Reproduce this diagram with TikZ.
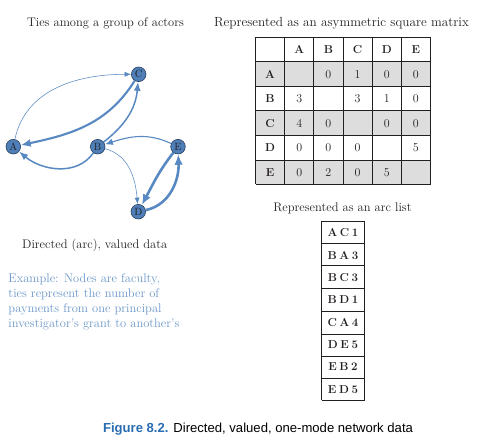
\documentclass[tikz,border=0pt]{standalone}
\usepackage{fontspec}
\newfontfamily\capfont{Liberation Sans}
\usetikzlibrary{arrows.meta}
\definecolor{edgeblue}{RGB}{88,137,194}
\definecolor{nodefill}{RGB}{79,127,184}
\definecolor{nodeline}{RGB}{40,62,92}
\definecolor{exblue}{RGB}{106,150,200}
\definecolor{capblue}{RGB}{40,108,178}
\definecolor{cellgray}{RGB}{221,221,221}
\definecolor{ink}{RGB}{35,31,32}
\tikzset{
  actor/.style={circle, minimum size=14.6pt, inner sep=0pt, fill=nodefill, draw=nodeline, line width=0.6pt, font=\fontsize{10.5}{12}\selectfont, text=ink},
  tie/.style={draw=edgeblue},
  tie1/.style={tie, line width=0.55pt, -{Latex[length=6.5pt,width=5pt]}},
  tie2/.style={tie, line width=1.1pt, -{Latex[length=8pt,width=6.5pt]}},
  tie3/.style={tie, line width=1.5pt, -{Latex[length=9pt,width=7pt]}},
  tie4/.style={tie, line width=2.1pt, -{Latex[length=10pt,width=8pt]}},
  tie5/.style={tie, line width=2.6pt, -{Latex[length=10.5pt,width=8.5pt]}},
  title/.style={font=\fontsize{12.5}{15}\selectfont, text=ink, inner sep=0pt},
  gridline/.style={draw=ink, line width=1.2pt},
  cell/.style={font=\fontsize{12}{13}\selectfont, text=ink, inner sep=0pt},
  hcell/.style={cell, font=\fontsize{11.5}{13}\selectfont\bfseries},
  arccell/.style={font=\fontsize{11.5}{13}\selectfont\bfseries, text=ink, inner sep=0pt}
}
\newcommand{\tightsp}[1]{{\spaceskip=2.6pt\relax #1}}
\begin{document}
\begin{tikzpicture}[x=1pt,y=1pt]
\useasboundingbox (0,0) rectangle (479,447);

% titles
\node[title, anchor=base] (t1) at (105.5,420) {Ties among a group of actors};
\node[title, anchor=base, font=\fontsize{13.2}{15}\selectfont] (t2) at (341.5,420) {Represented as an asymmetric square matrix};
\node[title, anchor=base] (t3) at (342.5,235.3) {Represented as an arc list};
\node[title, anchor=base west] (t4) at (22,198) {Directed (arc), valued data};
\node[title, anchor=north west, align=left, text=exblue] (t5) at (8.3,173)
  {Example: Nodes are faculty,\\ties represent the number of\\payments from one principal\\investigator's grant to another's};

% network
\node[actor] (A) at (13.3,300.3) {A};
\node[actor] (B) at (97.7,300.3) {B};
\node[actor] (C) at (138.7,372.7) {C};
\node[actor] (E) at (178,300.3) {E};
\node[actor] (D) at (138.3,235.3) {D};

\draw[tie1] (A) to[out=78, in=180] (C);
\draw[tie4] (C) to[out=238, in=12] (A);
\draw[tie3] (B) to[out=38, in=-95] (C);
\draw[tie3] (B) to[out=-125, in=-40] (A);
\draw[tie1] (B) to[out=-15, in=95] (D);
\draw[tie2] (E) to[out=155, in=18] (B);
\draw[tie5] (E) to[out=-128, in=62] (D);
\draw[tie5] (D) to[out=12, in=-88] (E);

% matrix (line centres on pixel centres)
\fill[cellgray] (255.5,385.5) rectangle (430.5,360.5);
\fill[cellgray] (255.5,336.5) rectangle (430.5,311.5);
\fill[cellgray] (255.5,286.5) rectangle (430.5,262.5);
\foreach \x in {255.5,284.5,313.5,343.5,372.5,401.5,430.5}{
  \draw[gridline] (\x,409.5) -- (\x,262.5);
}
\foreach \y in {409.5,385.5,360.5,336.5,311.5,286.5,262.5}{
  \draw[gridline] (255.5,\y) -- (430.5,\y);
}
\foreach \r/\entries in {0/{,A,B,C,D,E},1/{A,,0,1,0,0},2/{B,3,,3,1,0},3/{C,4,0,,0,0},4/{D,0,0,0,,5},5/{E,0,2,0,5,}}{
  \foreach \t [count=\c from 0] in \entries {
    \pgfmathsetmacro{\cx}{255.5+29.1667*\c+14.58}
    \pgfmathsetmacro{\cy}{409.5-24.5*\r-12.25}
    \ifnum\r=0 \node[hcell] (m-\r-\c) at (\cx,\cy) {\t};
    \else\ifnum\c=0 \node[hcell] (m-\r-\c) at (\cx,\cy) {\t};
    \else \node[cell] (m-\r-\c) at (\cx,\cy) {\t};
    \fi\fi
  }
}

% arc list
\foreach \y in {225.5,203.5,181.5,158.5,135.5,112.5,90.5,68.5,46.5}{
  \draw[gridline] (321.5,\y) -- (364.5,\y);
}
\draw[gridline] (321.5,225.5) -- (321.5,46.5);
\draw[gridline] (364.5,225.5) -- (364.5,46.5);
\foreach \t [count=\i from 0] in {A C 1,B A 3,B C 3,B D 1,C A 4,D E 5,E B 2,E D 5}{
  \node[arccell] (arc-\i) at (343,225.5-22.375*\i-11.2) {\tightsp{\t}};
}

% caption
\node[anchor=base, inner sep=0pt, font=\capfont\fontsize{13.1}{15}\selectfont] (cap) at (258,15)
  {\textcolor{capblue}{\textbf{Figure 8.2.}} Directed, valued, one-mode network data};
\end{tikzpicture}
\end{document}
